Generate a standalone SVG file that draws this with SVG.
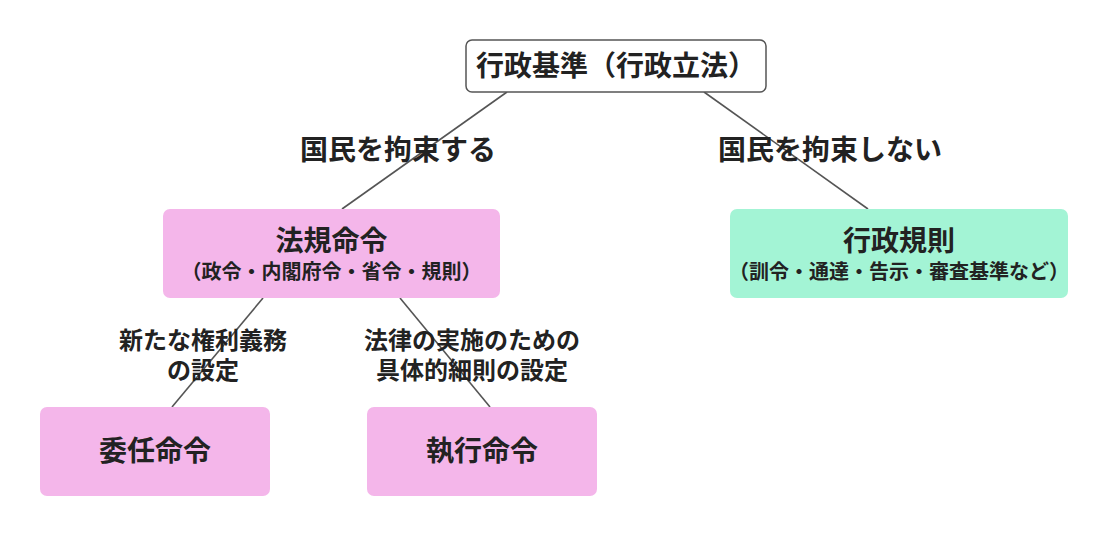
<svg xmlns="http://www.w3.org/2000/svg" width="1109" height="537" viewBox="0 0 1109 537">
<style>
text{font-family:"Noto Sans CJK JP","Noto Sans CJK SC",sans-serif;font-weight:bold;fill:#222;text-anchor:middle}
.edge{stroke:#555;stroke-width:1.6;fill:none}
.pink{fill:#f4b6ea}
.mint{fill:#a3f4d5}
.t{font-size:28px}
.s{font-size:20px}
.el{font-size:28px}
.bl{font-size:24px}
</style>
<rect width="1109" height="537" fill="#ffffff"/>
<g id="connectors">
<line class="edge" x1="507" y1="92" x2="342" y2="209"/>
<line class="edge" x1="704" y1="92" x2="868" y2="209"/>
<line class="edge" x1="263" y1="298" x2="172" y2="407"/>
<line class="edge" x1="400" y1="298" x2="490" y2="407"/>
<text class="el" x="398" y="160">国民を拘束する</text>
<text class="el" x="830" y="160">国民を拘束しない</text>
<text class="bl" x="203" y="349"><tspan x="203">新たな権利義務</tspan><tspan x="203" dy="30">の設定</tspan></text>
<text class="bl" x="472" y="349"><tspan x="472">法律の実施のための</tspan><tspan x="472" dy="30">具体的細則の設定</tspan></text>
</g>
<g id="gyosei-kijun">
<rect x="466" y="40" width="300" height="52" rx="6" fill="#fff" stroke="#555" stroke-width="1.5"/>
<text class="t" x="616" y="76">行政基準（行政立法）</text>
</g>
<g id="hoki-meirei">
<rect class="pink" x="163" y="209" width="337" height="89" rx="7"/>
<text class="t" x="331.5" y="251">法規命令</text>
<text class="s" x="331.5" y="279">（政令・内閣府令・省令・規則）</text>
</g>
<g id="gyosei-kisoku">
<rect class="mint" x="730" y="209" width="338" height="89" rx="7"/>
<text class="t" x="899" y="251">行政規則</text>
<text class="s" x="899" y="279">（訓令・通達・告示・審査基準など）</text>
</g>
<g id="inin-meirei">
<rect class="pink" x="40" y="407" width="230" height="89" rx="7"/>
<text class="t" x="155" y="461">委任命令</text>
</g>
<g id="shikko-meirei">
<rect class="pink" x="367" y="407" width="230" height="89" rx="7"/>
<text class="t" x="482" y="461">執行命令</text>
</g>
</svg>
